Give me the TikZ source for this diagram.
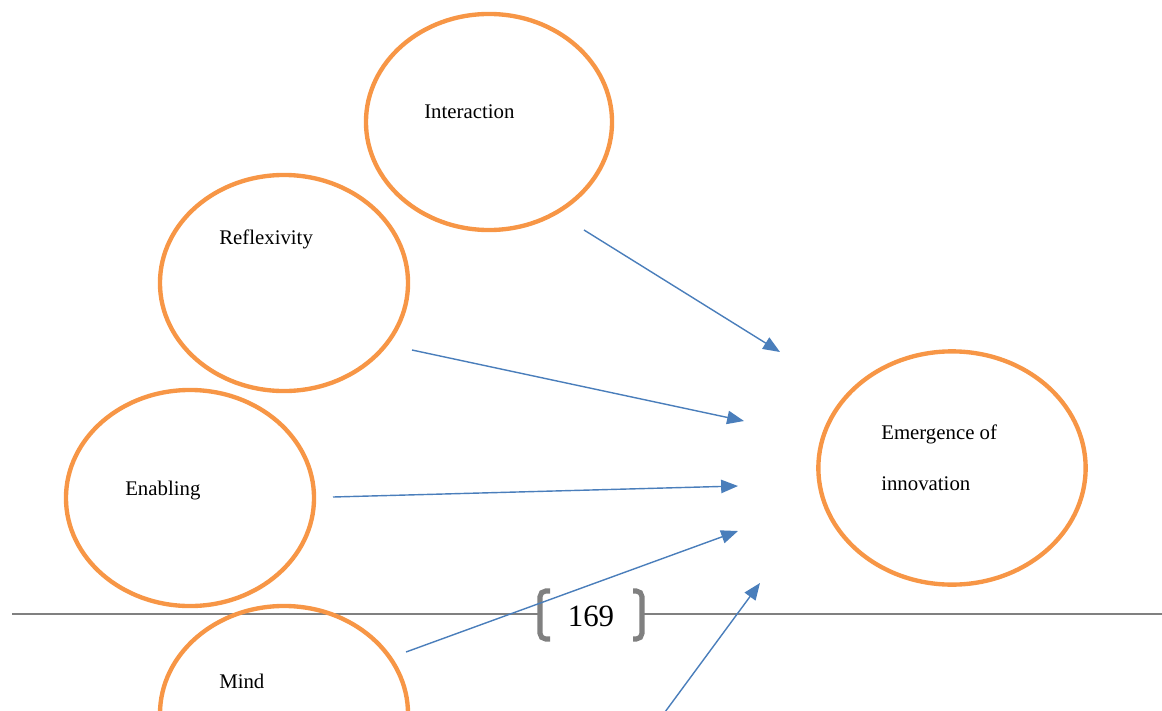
\documentclass[tikz,border=0pt]{standalone}
\usepackage{fontspec}
\setmainfont{Liberation Serif}
\usetikzlibrary{shapes.geometric,arrows.meta}
\definecolor{ringorange}{HTML}{F79646}
\definecolor{arrowblue}{HTML}{4A7EBB}
\definecolor{footgray}{HTML}{808080}
\tikzset{
  ring/.style={ellipse,draw=ringorange,line width=3.1pt,inner sep=0pt,minimum width=6.2cm,minimum height=5.4cm},
  word/.style={anchor=west,inner sep=0pt,font=\fontsize{14.8}{17}\selectfont},
  link/.style={draw=arrowblue,line width=1pt,-{Triangle[length=12pt,width=9.5pt]}},
  foot/.style={draw=footgray,line width=1.5pt},
  bracket/.style={draw=footgray,line width=3.6pt,rounded corners=4pt}
}

\begin{document}
\begin{tikzpicture}[x=0.025cm,y=-0.025cm]
            \useasboundingbox (0,0) rectangle (1162,710);
            \clip (0,0) rectangle (1162,710);
            \draw[foot] (12,614) -- (538,614);
            \draw[foot] (644,614) -- (1162,614);
            \draw[bracket] (550,591) -- (540,591) -- (540,639) -- (550,639);
            \draw[bracket] (633,591) -- (642,591) -- (642,639) -- (633,639);
            \node[font=\fontsize{22}{26}\selectfont] (page) at (591,616) {169};
            \node[ring,minimum width=6.15cm] (interaction) at (489,122) {};
            \node[ring] (reflexivity) at (284,283) {};
            \node[ring] (enabling) at (190,498) {};
            \node[ring] (mind) at (284,714) {};
            \node[ring,minimum width=6.68cm,minimum height=5.83cm] (emergence) at (952,468) {};
            \node[word] (interactiontext) at (424,112) {Interaction};
            \node[word] (reflexivitytext) at (219,239) {Reflexivity};
            \node[word] (enablingtext) at (125,491) {Enabling};
            \node[word] (mindtext) at (219,681) {Mind};
            \node[word] (emergencetext) at (881,434) {Emergence of};
            \node[word] (innovationtext) at (881,484) {innovation};
            \coordinate (a1) at (584,230);
            \coordinate (b1) at (780,352);
            \coordinate (a2) at (412,350);
            \coordinate (b2) at (744,421);
            \coordinate (a3) at (333,497);
            \coordinate (b3) at (738,486);
            \coordinate (a4) at (406,652);
            \coordinate (b4) at (738,531);
            \coordinate (a5) at (665,712);
            \coordinate (b5) at (760,583);
            \draw[link] (a1) -- (b1);
            \draw[link] (a2) -- (b2);
            \draw[link] (a3) -- (b3);
            \draw[link] (a4) -- (b4);
            \draw[link] (a5) -- (b5);
        \end{tikzpicture}
\end{document}
